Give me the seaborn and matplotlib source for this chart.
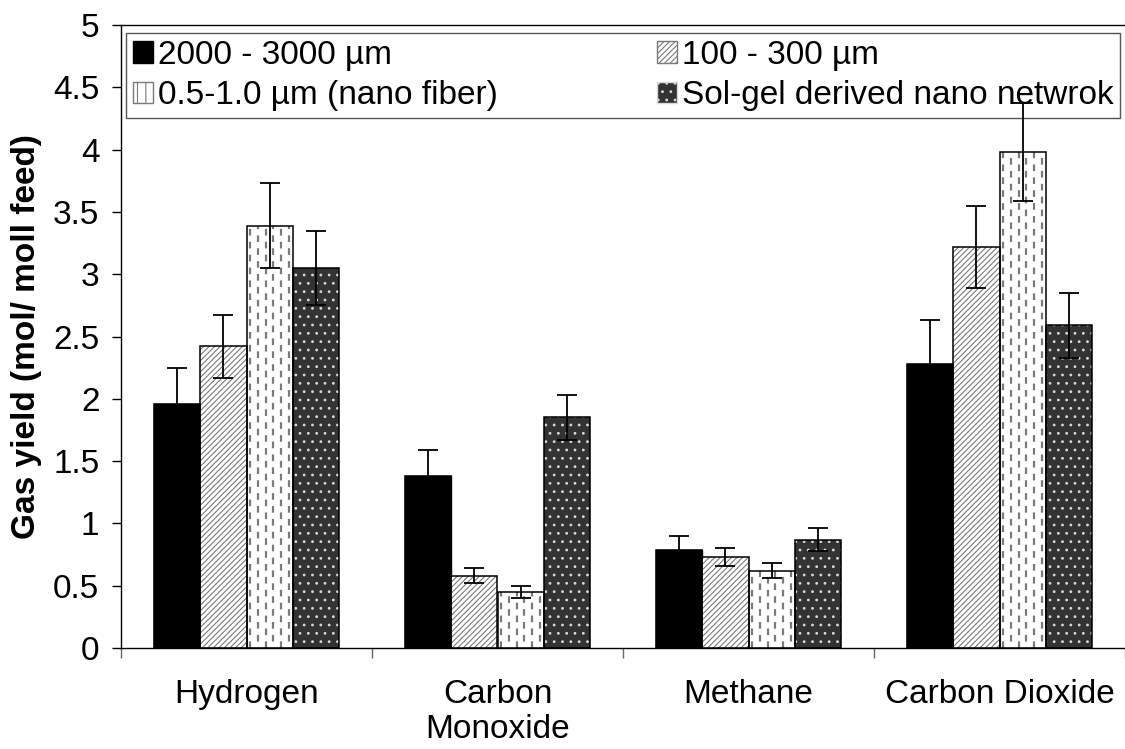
import numpy as np
import pandas as pd
import matplotlib
matplotlib.use("Agg")
import matplotlib.pyplot as plt
from matplotlib.patches import Patch, Rectangle
from matplotlib.ticker import FixedLocator
import seaborn as sns

# gases on the x axis
gases = ["Hydrogen", "Carbon\nMonoxide", "Methane", "Carbon Dioxide"]

# catalyst size groups (legend order)
sizes = ["2000 - 3000 µm", "100 - 300 µm", "0.5-1.0 µm (nano fiber)",
         "Sol-gel derived nano netwrok"]

# gas yields, one list per size group
yield_2000 = [1.96, 1.38, 0.79, 2.28]
yield_100 = [2.42, 0.58, 0.73, 3.22]
yield_nano = [3.39, 0.45, 0.62, 3.98]
yield_solgel = [3.05, 1.85, 0.87, 2.59]

# error bar half-lengths
err_2000 = [0.29, 0.21, 0.11, 0.35]
err_100 = [0.25, 0.06, 0.07, 0.33]
err_nano = [0.34, 0.045, 0.06, 0.39]
err_solgel = [0.30, 0.18, 0.09, 0.26]

yticks = [0, 0.5, 1, 1.5, 2, 2.5, 3, 3.5, 4, 4.5, 5]
ytick_labels = ["0", "0.5", "1", "1.5", "2", "2.5", "3", "3.5", "4", "4.5", "5"]


def build_frame():
    rows = []
    for size, vals in zip(sizes, [yield_2000, yield_100, yield_nano, yield_solgel]):
        for gas, v in zip(gases, vals):
            rows.append({"Gas": gas, "Size": size, "Yield": v})
    return pd.DataFrame(rows)


def main():
    sns.set_theme(style="white")
    plt.rcParams["font.family"] = ["Liberation Sans", "DejaVu Sans"]
    plt.rcParams["hatch.linewidth"] = 0.8
    for key in ["text.color", "axes.labelcolor", "xtick.labelcolor", "ytick.labelcolor"]:
        plt.rcParams[key] = "black"

    df = build_frame()
    errs = [err_2000, err_100, err_nano, err_solgel]

    fig = plt.figure(figsize=(11.25, 7.49), dpi=100)
    ax = fig.add_axes([121 / 1125, 1 - 648 / 749, 1004 / 1125, 623 / 749])

    sns.barplot(data=df, x="Gas", y="Yield", hue="Size", order=gases,
                hue_order=sizes, palette=["black", "white", "white", "#333333"],
                width=0.735, errorbar=None, legend=False, ax=ax, saturation=1)

    # textures for each group
    for i, cont in enumerate(ax.containers):
        for p in cont.patches:
            if i == 0:
                p.set_facecolor("black")
                p.set_edgecolor("black")
                p.set_linewidth(1)
            elif i == 1:
                p.set_facecolor("white")
                p.set_edgecolor("#7a7a7a")
                p.set_hatch("//////")
                p.set_linewidth(0)
            elif i == 2:
                p.set_facecolor("white")
                p.set_linewidth(0)
                x0, w, h = p.get_x(), p.get_width(), p.get_height()
                step = w / 6
                xs = x0 + step / 2 + step * np.arange(6)
                for k, off in enumerate([0, 2.9]):
                    lc = ax.vlines(xs[k::2], 0, h, colors="#7a7a7a", linewidth=1.6,
                                   linestyles=[(off, (3, 2.8))], zorder=p.get_zorder() + 0.1)
                    lc.set_clip_path(p)
            else:
                p.set_facecolor("#333333")
                p.set_edgecolor("#d9d9d9")
                p.set_hatch("..")
                p.set_linewidth(0)
            ax.add_patch(Rectangle(p.get_xy(), p.get_width(), p.get_height(), fill=False,
                                   edgecolor="black", linewidth=1.1,
                                   zorder=p.get_zorder() + 0.5))

    # error bars from the bar positions
    for cont, err in zip(ax.containers, errs):
        xs = [p.get_x() + p.get_width() / 2 for p in cont.patches]
        ys = [p.get_height() for p in cont.patches]
        ax.errorbar(xs, ys, yerr=err, fmt="none", ecolor="black", elinewidth=1.3,
                    capsize=7, capthick=1.3, zorder=6)

    ax.set_xlim(-0.5, 3.5)
    ax.set_ylim(0, 5)
    ax.set_yticks(yticks)
    ax.set_yticklabels(ytick_labels)
    ax.set_xlabel("")
    ax.set_ylabel("Gas yield (mol/ moll feed)", fontsize=24, fontweight="bold",
                  labelpad=8)

    ax.tick_params(axis="y", which="major", direction="out", length=6.5, width=1,
                   color="black", labelsize=24, pad=9, left=True)
    ax.tick_params(axis="x", which="major", length=0, labelsize=24, pad=22, bottom=True)
    ax.xaxis.set_minor_locator(FixedLocator([-0.5, 0.5, 1.5, 2.5, 3.5]))
    ax.tick_params(axis="x", which="minor", direction="out", length=7.5, width=1,
                   color="#666666", bottom=True)

    for side in ["left", "bottom", "top"]:
        ax.spines[side].set_visible(True)
        ax.spines[side].set_color("black")
        ax.spines[side].set_linewidth(1)
    ax.spines["right"].set_visible(False)

    handles = [
        Patch(facecolor="black", edgecolor="black"),
        Patch(facecolor="white", edgecolor="#7a7a7a", hatch="//////"),
        Patch(facecolor="white", edgecolor="#7a7a7a", hatch="||"),
        Patch(facecolor="#333333", edgecolor="#d9d9d9", hatch=".."),
    ]
    # matplotlib fills legend columns first, reorder so rows read left to right
    order = [0, 2, 1, 3]
    leg = ax.legend([handles[k] for k in order], [sizes[k] for k in order],
                    ncol=2, mode="expand", loc="upper left",
                    bbox_to_anchor=(0.005, 0.4, 0.99, 0.587), borderaxespad=0,
                    fontsize=24, handlelength=0.6, handleheight=0.6,
                    handletextpad=0.15, borderpad=0.2, labelspacing=0.28,
                    frameon=True, fancybox=False, framealpha=1, edgecolor="#555555")
    leg.get_frame().set_linewidth(1)
    leg.set_zorder(5)

    fig.savefig("out.png", dpi=100)


if __name__ == "__main__":
    main()
